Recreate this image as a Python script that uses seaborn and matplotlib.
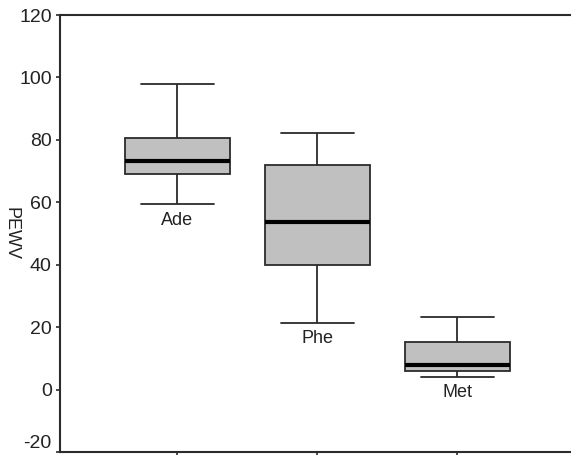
import numpy as np
import pandas as pd
import matplotlib
matplotlib.use("Agg")
import matplotlib.pyplot as plt
import seaborn as sns

# Five-number summaries (min, q1, median, q3, max)
categories = ["Ade", "Phe", "Met"]
ade_vals = [59.3, 69.0, 73.3, 80.6, 97.9]
phe_vals = [21.3, 39.8, 53.8, 71.9, 82.3]
met_vals = [4.0, 5.9, 7.9, 15.4, 23.3]
y_ticks = [-20, 0, 20, 40, 60, 80, 100, 120]
y_label = "PEWV"

sns.set_theme(style="white")
plt.rcParams["font.family"] = ["Liberation Sans", "DejaVu Sans"]

df = pd.DataFrame({
    "group": np.repeat(categories, 5),
    "value": ade_vals + phe_vals + met_vals,
})

fig = plt.figure(figsize=(5.71, 4.55), dpi=100)
ax = fig.add_axes([60 / 571, 3 / 455, 511 / 571, 437 / 455])

edge = "#2b2b2b"
sns.boxplot(
    data=df, x="group", y="value", order=categories, ax=ax,
    whis=(0, 100), width=0.75, color="#c0c0c0", linecolor=edge,
    linewidth=1.3, saturation=1, capwidths=0.52,
    medianprops={"color": "black", "linewidth": 3.0},
    boxprops={"facecolor": "#c0c0c0", "edgecolor": edge},
)

# category labels beneath each lower whisker
for i, (name, vals) in enumerate(zip(categories, [ade_vals, phe_vals, met_vals])):
    ax.text(i, min(vals) - 5, name, ha="center", va="center",
            fontsize=13, color="#222222")

ax.set_xlim(-0.836, 2.81)
ax.set_ylim(-20, 120)
ax.set_yticks(y_ticks)
ax.set_yticklabels([str(t) for t in y_ticks], fontsize=14, color="#222222")
# lowest label sits just above the figure edge, as in the reference
ax.get_yticklabels()[0].set_va("bottom")
ax.set_xticks(range(len(categories)))
ax.set_xticklabels([])
ax.set_xlabel("")
ax.set_ylabel(y_label, rotation=270, fontsize=13, color="#222222")
ax.yaxis.set_label_coords(-0.112, 0.5)

ax.tick_params(axis="y", which="both", left=True, length=3, width=1.2,
               color=edge, pad=3)
ax.tick_params(axis="x", which="both", bottom=True, length=3, width=1.2,
               color=edge)
for side in ["left", "top", "bottom"]:
    ax.spines[side].set_visible(True)
    ax.spines[side].set_color(edge)
    ax.spines[side].set_linewidth(1.5)
ax.spines["right"].set_visible(False)

fig.savefig("out.png", dpi=100)
